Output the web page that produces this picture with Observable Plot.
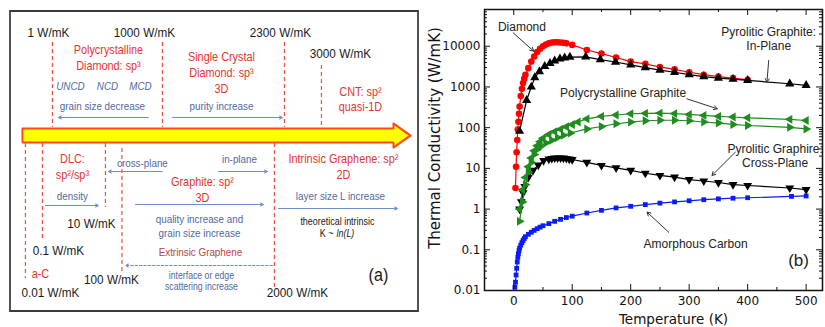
<!DOCTYPE html>
<html>
<head>
<meta charset="utf-8">
<script src="https://cdn.jsdelivr.net/npm/d3@7"></script>
<script src="https://cdn.jsdelivr.net/npm/@observablehq/plot@0.6"></script>
<style>
html,body{margin:0;padding:0;background:#fff;}
#wrap{position:relative;width:825px;height:327px;overflow:hidden;background:#fff;}
#panelA{position:absolute;left:0;top:0;width:420px;height:327px;overflow:hidden;}
#panelB{position:absolute;left:420px;top:0;width:405px;height:327px;}
#panelA svg{max-width:none !important;width:483px;height:327px;transform:scaleX(0.87);transform-origin:0 0;display:block;}
#panelB svg{display:block;}
</style>
</head>
<body>
<div id="wrap"><div id="panelA"></div><div id="panelB"></div></div>
<script>
// ================= Panel (b): thermal conductivity vs temperature =================
const diamondT = [3,4,5,6,7,8,9,10,12,14,16,18,20,25,30,35,40,45,50,55,60,65,70,75,80,85,90,100,125,150,175,200,225,250,275,300,325,350,375,400];
const diamondK = [3.3,11,25,50,90,140,220,330,600,900,1250,1600,2000,2900,4200,5600,7200,8700,10000,11000,11800,12300,12500,12500,12400,12200,11800,10800,8100,6600,5300,4200,3700,3100,2700,2300,2000,1800,1650,1500];

const inPlaneT = [10,22,30,36,44,53,62,70,79,87,96,123,148,174,200,225,250,275,300,325,350,375,400,472,500];
const inPlaneK = [82,470,1000,1700,2400,3200,3800,4400,4900,5200,5400,5500,4700,4100,3500,3000,2600,2300,2000,1800,1650,1550,1450,1200,1100];

const polyUpperT = [10,15,20,25,30,35,40,45,50,60,70,80,90,100,110,125,150,175,200,225,250,275,300,325,350,375,400,472,500];
const polyUpperK = [1.0,3,6,11,18,27,36,45,55,68,80,92,105,120,138,165,190,205,220,225,228,222,212,200,190,183,175,160,150];

const polyLowerT = [10,15,20,25,30,35,40,45,55,65,75,85,97,125,150,175,200,225,250,275,300,325,350,375,400,472,500];
const polyLowerK = [0.5,1.5,4,8,14,22,29,34,42,49,57,65,74,93,107,125,137,148,152,152,148,138,130,120,113,102,93];

const crossT = [10,13,16,19,25,33,42,51,60,65,70,75,80,85,90,95,100,125,150,175,200,225,250,275,300,325,350,375,400,472,500];
const crossK = [1.0,1.5,2.5,3.6,6,9,12,15.5,17,17.5,18,18,18,17.8,17.5,17,16.5,14,11.8,10.3,8.9,7.6,6.7,6.1,5.3,4.9,4.5,4.0,3.8,3.3,3.0];

const amorphT = [2,3,4,5,6,7,8,9,10,12,14,16,18,20,25,30,35,40,45,50,60,70,80,90,100,125,150,175,200,225,250,275,300,325,350,375,400,475,500];
const amorphK = [0.012,0.016,0.024,0.035,0.05,0.065,0.08,0.095,0.11,0.13,0.15,0.17,0.19,0.21,0.24,0.27,0.3,0.33,0.36,0.39,0.44,0.5,0.56,0.62,0.67,0.8,0.93,1.07,1.17,1.29,1.4,1.5,1.6,1.7,1.78,1.85,1.9,2.05,2.1];

const xMajor = [0,100,200,300,400,500];
const xMinor = [50,150,250,350,450];
const yMajor = [0.01,0.1,1,10,100,1000,10000];
const yMinor = [];
for (const d of yMajor) for (let m = 2; m <= 9; m++) { const v = +(d*m).toPrecision(3); if (v < 80000) yMinor.push(v); }

const annB = [
  {text:"Diamond", T:14, K:30600},
  {text:"Pyrolitic Graphite:\nIn-Plane", T:436, K:15400},
  {text:"Polycrystalline Graphite", T:187, K:745},
  {text:"Pyrolitic Graphire:\nCross-Plane", T:447, K:20.7},
  {text:"Amorphous Carbon", T:311, K:0.145}
];
const arrowsB = [
  {T1:-1, K1:21400, T2:34, K2:7600},
  {T1:436, K1:4470, T2:433, K2:1310},
  {T1:296, K1:513, T2:348, K2:291},
  {T1:379, K1:25, T2:339, K2:6.7},
  {T1:265, K1:0.27, T2:228, K2:0.84}
];

const seriesB = [
  {name:"Amorphous Carbon", T:amorphT, K:amorphK, color:"#0a1cff", symbol:"square", rotate:0, r:2.7},
  {name:"Pyrolitic Graphite Cross-Plane", T:crossT, K:crossK, color:"#000000", symbol:"triangle", rotate:180, r:3.3},
  {name:"Polycrystalline Graphite (lower)", T:polyLowerT, K:polyLowerK, color:"#1e8c1e", symbol:"triangle", rotate:90, r:3.3},
  {name:"Polycrystalline Graphite (upper)", T:polyUpperT, K:polyUpperK, color:"#1e8c1e", symbol:"triangle", rotate:-90, r:3.3},
  {name:"Diamond", T:diamondT, K:diamondK, color:"#ff0000", symbol:"circle", rotate:0, r:3.3},
  {name:"Pyrolitic Graphite In-Plane", T:inPlaneT, K:inPlaneK, color:"#000000", symbol:"triangle", rotate:0, r:3.4}
];

const seriesMarks = [];
for (const s of seriesB) {
  const rows = s.T.map((t, i) => ({T: t, K: s.K[i]}));
  seriesMarks.push(Plot.line(rows, {x:"T", y:"K", stroke:s.color, strokeWidth:1.2}));
  seriesMarks.push(Plot.dot(rows, {x:"T", y:"K", symbol:s.symbol, rotate:s.rotate, r:s.r, fill:s.color, stroke:"none"}));
}

const FW = 338, FH = 281;
const chartB = Plot.plot({
  width: 405, height: 327,
  marginLeft: 64, marginRight: 3, marginTop: 9, marginBottom: 37,
  style: {fontFamily: "DejaVu Sans", fontSize: "12px", background: "white", color: "#111"},
  x: {domain: [-50, 528], label: null},
  y: {type: "log", domain: [0.01, 80000], label: null},
  marks: [
    ...seriesMarks,
    Plot.tickY(yMajor, {y: d => d, insetRight: FW - 6, stroke: "#111"}),
    Plot.tickY(yMinor, {y: d => d, insetRight: FW - 3, stroke: "#111"}),
    Plot.tickY(yMajor, {y: d => d, insetLeft: FW - 6, stroke: "#111"}),
    Plot.tickY(yMinor, {y: d => d, insetLeft: FW - 3, stroke: "#111"}),
    Plot.tickX(xMajor, {x: d => d, insetTop: FH - 6, stroke: "#111"}),
    Plot.tickX(xMinor, {x: d => d, insetTop: FH - 3, stroke: "#111"}),
    Plot.tickX(xMajor, {x: d => d, insetBottom: FH - 6, stroke: "#111"}),
    Plot.tickX(xMinor, {x: d => d, insetBottom: FH - 3, stroke: "#111"}),
    Plot.axisY(yMajor, {anchor: "left", tickSize: 0, tickPadding: 4, tickFormat: d => String(d), label: null, fontSize: 12}),
    Plot.axisX(xMajor, {anchor: "bottom", tickSize: 0, tickPadding: 6, label: null, fontSize: 12}),
    Plot.frame({stroke: "#111", strokeWidth: 1.5}),
    Plot.text(["Thermal Conductivity (W/mK)"], {text: d => d, frameAnchor: "left", textAnchor: "middle", lineAnchor: "middle", rotate: -90, dx: -49, dy: -12, fontSize: 15}),
    Plot.text(["Temperature (K)"], {text: d => d, frameAnchor: "bottom", textAnchor: "middle", lineAnchor: "middle", dx: 20, dy: 29, fontSize: 13.5}),
    Plot.arrow(arrowsB, {x1:"T1", y1:"K1", x2:"T2", y2:"K2", stroke:"#333", strokeWidth:1, headLength:6}),
    Plot.text(annB, {x:"T", y:"K", text:"text", fontFamily:"Liberation Sans", fontSize:12, lineHeight:1.15, fill:"#222"}),
    Plot.text(["(b)"], {text: d => d, x: 487, y: 0.055, fontFamily:"Liberation Sans", fontSize:17, fill:"#222"})
  ]
});
document.getElementById("panelB").appendChild(chartB);

// ================= Panel (a): schematic of carbon allotropes =================
const SX = 0.87;
const boxA = [{x1:10, x2:418, y1:11, y2:311}];
const dashLines = [
  {x:52, y1:42, y2:127}, {x:162, y1:42, y2:127}, {x:284, y1:42, y2:127}, {x:321, y1:65, y2:127},
  {x:25, y1:143, y2:278}, {x:42, y1:143, y2:238}, {x:105, y1:143, y2:207},
  {x:121.5, y1:148, y2:272}, {x:274, y1:143, y2:288}
];
const bigArrow = [
  {x:22, y:128}, {x:393, y:128}, {x:393, y:123}, {x:410, y:135},
  {x:393, y:147}, {x:393, y:142}, {x:22, y:142}
];
const wmkLabels = [
  {text:"1 W/mK", x:48, y:32}, {text:"1000 W/mK", x:144, y:32}, {text:"2300 W/mK", x:280, y:32},
  {text:"3000 W/mK", x:340, y:53}, {text:"10 W/mK", x:91, y:223}, {text:"0.1 W/mK", x:58, y:250},
  {text:"100 W/mK", x:111, y:279}, {text:"0.01 W/mK", x:50, y:292}, {text:"2000 W/mK", x:297, y:292}
];
const materialLabels = [
  {text:"Polycrystalline\nDiamond: sp\u00b3", x:108, y:56.5},
  {text:"Single Crystal\nDiamond: sp\u00b3\n3D", x:221, y:71.5},
  {text:"CNT: sp\u00b2\nquasi-1D", x:360, y:98},
  {text:"DLC:\nsp\u00b2/sp\u00b3", x:72, y:165.5},
  {text:"Graphite: sp\u00b2\n3D", x:202, y:188.5},
  {text:"Intrinsic Graphene: sp\u00b2\n2D", x:343, y:165.5},
  {text:"a-C", x:40, y:272}
];
const trendLabels = [
  {text:"grain size decrease", x:102, y:105}, {text:"purity increase", x:221, y:105},
  {text:"density", x:72, y:195}, {text:"cross-plane", x:142, y:162}, {text:"in-plane", x:239, y:158},
  {text:"quality increase and\ngrain size increase", x:199, y:225},
  {text:"layer size L increase", x:340, y:195}
];
const gradeLabels = [{text:"UNCD", x:70, y:86}, {text:"NCD", x:107, y:86}, {text:"MCD", x:140, y:86}];
const arrowsA = [
  {x1:148, y1:117, x2:58, y2:117}, {x1:172, y1:117, x2:282, y2:117},
  {x1:45, y1:205, x2:98, y2:205}, {x1:162, y1:171, x2:108, y2:171},
  {x1:218, y1:171, x2:267, y2:171}, {x1:135, y1:204, x2:263, y2:204},
  {x1:278, y1:208, x2:397, y2:208}
];
const dashedArrowA = [{x1:272, y1:265, x2:125, y2:265}];

const chartA = Plot.plot({
  width: 483, height: 327, margin: 0,
  x: {domain: [0, 420], range: [0, 420 / SX], axis: null},
  y: {domain: [0, 327], range: [0, 327], axis: null},
  style: {fontFamily: "Liberation Sans, Arial, sans-serif", background: "white"},
  marks: [
    Plot.rect(boxA, {x1:"x1", x2:"x2", y1:"y1", y2:"y2", fill:"white", stroke:"#3a3a3a", strokeWidth:2}),
    Plot.ruleX(dashLines, {x:"x", y1:"y1", y2:"y2", stroke:"#f0503c", strokeWidth:1.4, strokeDasharray:"4,3"}),
    Plot.line(bigArrow, {x:"x", y:"y", curve:"linear-closed", fill:"#ffff00", stroke:"#ff4a14", strokeWidth:2.2}),
    Plot.arrow(arrowsA, {x1:"x1", y1:"y1", x2:"x2", y2:"y2", stroke:"#6f8fc8", strokeWidth:1.1, headLength:5, headAngle:50}),
    Plot.arrow(dashedArrowA, {x1:"x1", y1:"y1", x2:"x2", y2:"y2", stroke:"#6f8fc8", strokeWidth:1.1, strokeDasharray:"3,2", headLength:5, headAngle:50}),
    Plot.text(wmkLabels, {x:"x", y:"y", text:"text", fontSize:13.5, fill:"#1a1a1a"}),
    Plot.text(materialLabels, {x:"x", y:"y", text:"text", fontSize:12.5, fill:"#e8342c", lineHeight:1.25}),
    Plot.text(trendLabels, {x:"x", y:"y", text:"text", fontSize:11.3, fill:"#4f6a9c", lineHeight:1.25}),
    Plot.text(gradeLabels, {x:"x", y:"y", text:"text", fontSize:11.3, fontStyle:"italic", fill:"#4f6a9c"}),
    Plot.text(["Extrinsic Graphene"], {text:d => d, x:200, y:252, fontSize:11.3, fill:"#b8463e"}),
    Plot.text(["interface or edge\nscattering increase"], {text:d => d, x:201, y:280.5, fontSize:10, fill:"#4f6a9c", lineHeight:1.1}),
    Plot.text(["theoretical intrinsic"], {text:d => d, x:337, y:221, fontSize:10.3, fill:"#1a1a1a"}),
    Plot.text(["K ~"], {text:d => d, x:333, y:233, fontSize:10.3, fill:"#1a1a1a", textAnchor:"end"}),
    Plot.text(["ln(L)"], {text:d => d, x:336, y:233, fontSize:10.3, fill:"#1a1a1a", fontStyle:"italic", textAnchor:"start"}),
    Plot.text(["(a)"], {text:d => d, x:378, y:275, fontSize:18.5, fill:"#1a1a1a"})
  ]
});
document.getElementById("panelA").appendChild(chartA);
</script>
</body>
</html>
